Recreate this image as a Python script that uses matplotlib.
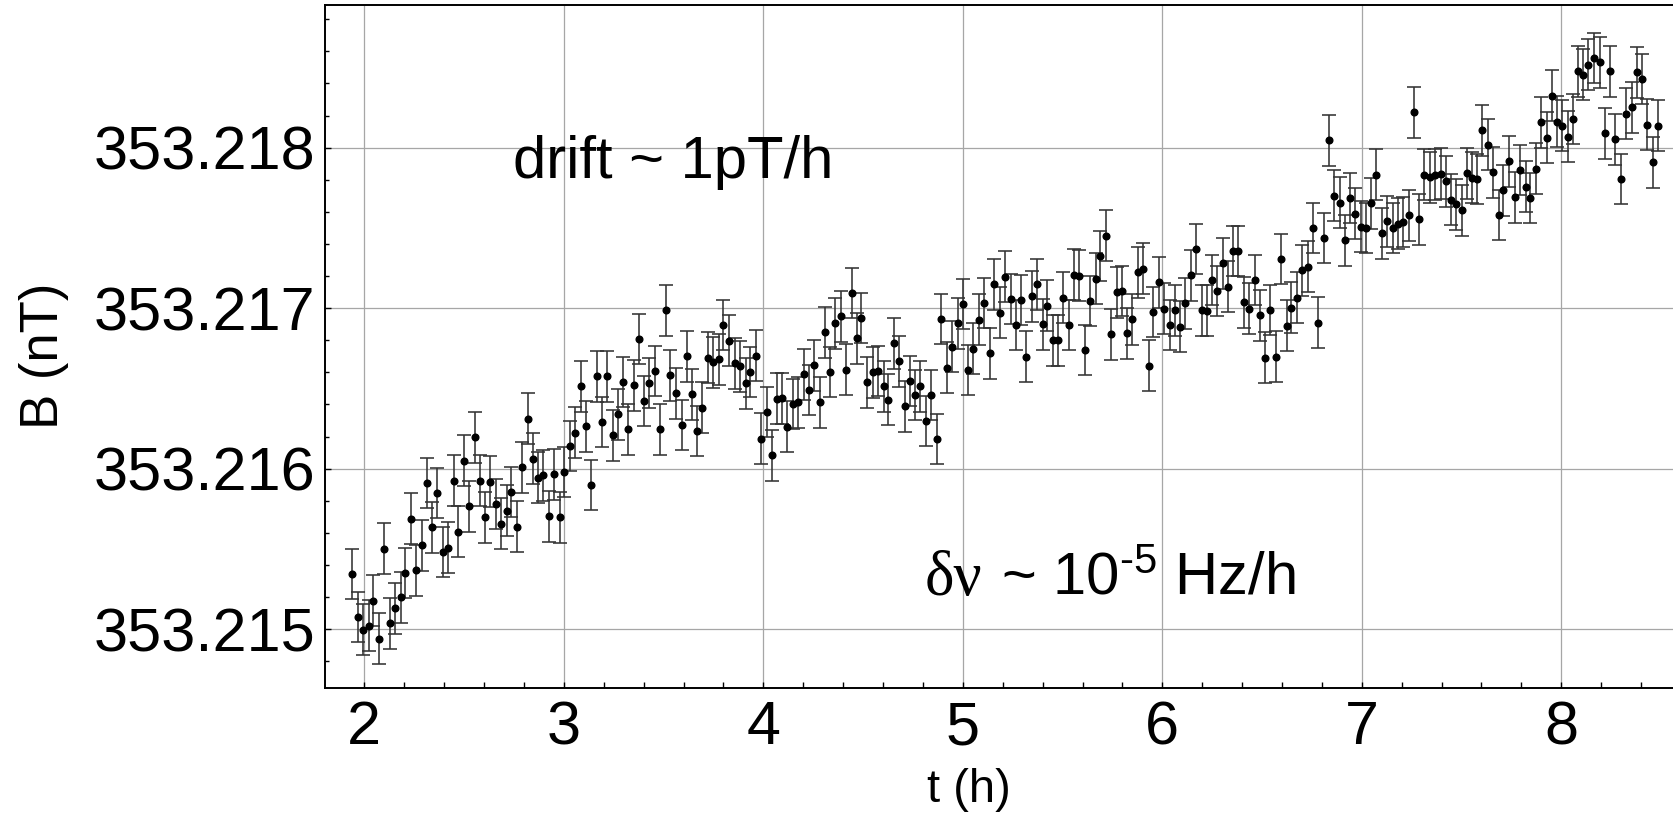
import numpy as np
import matplotlib
matplotlib.use("Agg")
import matplotlib.pyplot as plt
from matplotlib.ticker import MultipleLocator, FormatStrFormatter

plt.rcParams.update({
    "font.family": ["Liberation Sans", "DejaVu Sans"],
    "mathtext.fontset": "custom",
    "mathtext.rm": "Liberation Sans",
    "mathtext.default": "regular",
})

# field values are stored as offset from 353.215 nT, in pT
B_BASE = 353.215
t_h = [
    1.940, 1.967, 1.995, 2.024, 2.045, 2.072, 2.100, 2.127, 2.156, 2.182,
    2.204, 2.232, 2.259, 2.288, 2.314, 2.338, 2.366, 2.393, 2.421, 2.448,
    2.471, 2.498, 2.527, 2.553, 2.582, 2.605, 2.632, 2.660, 2.687, 2.715,
    2.735, 2.765, 2.792, 2.819, 2.847, 2.869, 2.897, 2.926, 2.953, 2.981,
    3.003,
    3.031, 3.058, 3.086, 3.111, 3.136, 3.165, 3.192, 3.218, 3.247, 3.270,
    3.295, 3.324, 3.352, 3.379, 3.402, 3.429, 3.457, 3.484, 3.512, 3.534,
    3.562, 3.591, 3.616, 3.644, 3.668, 3.694, 3.721, 3.750, 3.778, 3.800,
    3.830, 3.857, 3.883, 3.912, 3.935, 3.962, 3.989, 4.017, 4.044, 4.067,
    4.095, 4.120,
    4.150, 4.176, 4.204, 4.227, 4.254, 4.283, 4.309, 4.336, 4.359, 4.388,
    4.416, 4.443, 4.470, 4.491, 4.520, 4.548, 4.575, 4.605, 4.625, 4.653,
    4.680, 4.709, 4.735, 4.759, 4.787, 4.814, 4.841, 4.869, 4.891, 4.919,
    4.946, 4.974, 5.001, 5.024, 5.051, 5.080, 5.108, 5.135, 5.158, 5.185,
    5.213, 5.240,
    5.267, 5.290, 5.317, 5.345, 5.374, 5.400, 5.424, 5.452, 5.479, 5.504,
    5.532, 5.557, 5.584, 5.612, 5.639, 5.668, 5.689, 5.716, 5.745, 5.771,
    5.800, 5.821, 5.850, 5.877, 5.905, 5.932, 5.955, 5.982, 6.010, 6.037,
    6.064, 6.089, 6.115, 6.142, 6.171, 6.197, 6.222, 6.249, 6.276, 6.303,
    6.331,
    6.356, 6.381, 6.410, 6.436, 6.463, 6.491, 6.515, 6.542, 6.570, 6.597,
    6.625, 6.647, 6.675, 6.702, 6.730, 6.757, 6.780, 6.809, 6.834, 6.862,
    6.891, 6.914, 6.941, 6.968, 6.996, 7.023, 7.046, 7.073, 7.101, 7.128,
    7.156, 7.180, 7.206, 7.235, 7.262, 7.288, 7.313, 7.340, 7.367, 7.395,
    7.422, 7.445,
    7.472, 7.501, 7.527, 7.552, 7.577, 7.604, 7.634, 7.659, 7.688, 7.709,
    7.740, 7.766, 7.793, 7.821, 7.845, 7.872, 7.898, 7.927, 7.955, 7.977,
    8.005, 8.032, 8.060, 8.085, 8.109, 8.136, 8.166, 8.194, 8.219, 8.244,
    8.269, 8.298, 8.326, 8.353, 8.381, 8.403, 8.431, 8.458, 8.486,
]
b_pT = [
    0.344, 0.075, -0.004, 0.021, 0.177, -0.059, 0.502, 0.037, 0.129, 0.198,
    0.350, 0.689, 0.366, 0.523, 0.910, 0.635, 0.848, 0.481, 0.508, 0.925,
    0.606, 1.050, 0.764, 1.194, 0.925, 0.696, 0.919, 0.779, 0.656, 0.737,
    0.854, 0.639, 1.008, 1.310, 1.062, 0.944, 0.958, 0.702, 0.964, 0.696,
    0.979,
    1.141, 1.223, 1.512, 1.264, 0.898, 1.575, 1.291, 1.575, 1.208, 1.339,
    1.539, 1.244, 1.519, 1.808, 1.421, 1.533, 1.608, 1.244, 1.987, 1.581,
    1.469, 1.271, 1.700, 1.462, 1.235, 1.379, 1.691, 1.662, 1.681, 1.894,
    1.796, 1.656, 1.637, 1.531, 1.602, 1.704, 1.187, 1.352, 1.083, 1.435,
    1.439, 1.262,
    1.402, 1.412, 1.587, 1.489, 1.644, 1.414, 1.850, 1.602, 1.906, 1.948,
    1.616, 2.094, 1.812, 1.939, 1.537, 1.600, 1.608, 1.512, 1.429, 1.781,
    1.669, 1.387, 1.546, 1.458, 1.512, 1.296, 1.458, 1.185, 1.933, 1.629,
    1.760, 1.906, 2.025, 1.614, 1.748, 1.927, 2.031, 1.719, 2.148, 1.971,
    2.196, 2.056,
    1.894, 2.050, 1.698, 2.073, 2.148, 1.900, 2.016, 1.800, 1.800, 2.064,
    1.894, 2.208, 2.202, 1.739, 2.044, 2.183, 2.325, 2.452, 1.837, 2.098,
    2.106, 1.844, 1.931, 2.223, 2.246, 1.641, 1.975, 2.160, 1.996, 1.894,
    1.987, 1.885, 2.029, 2.204, 2.369, 1.987, 1.983, 2.175, 2.106, 2.279,
    2.133,
    2.356, 2.356, 2.037, 1.996, 2.175, 1.954, 1.691, 1.989, 1.698, 2.306,
    1.891, 2.002, 2.064, 2.235, 2.258, 2.500, 1.910, 2.437, 3.046, 2.700,
    2.658, 2.423, 2.687, 2.589, 2.508, 2.500, 2.652, 2.831, 2.466, 2.541,
    2.500, 2.527, 2.537, 2.579, 3.219, 2.554, 2.831, 2.816, 2.831, 2.837,
    2.789, 2.675,
    2.646, 2.610, 2.839, 2.812, 2.804, 3.108, 3.019, 2.846, 2.581, 2.735,
    2.914, 2.691, 2.860, 2.756, 2.687, 2.869, 3.158, 3.062, 3.323, 3.162,
    3.137, 3.069, 3.179, 3.475, 3.454, 3.516, 3.558, 3.531, 3.089, 3.475,
    3.052, 2.804, 3.212, 3.252, 3.469, 3.427, 3.144, 2.908, 3.137,
]
err_pT = 0.158

B_nT = B_BASE + np.array(b_pT) * 1e-3

fig = plt.figure(figsize=(16.73, 8.27), dpi=100)
ax = fig.add_axes([0.1943, 0.1681, 0.8057, 0.8259])

ax.errorbar(t_h, B_nT, yerr=err_pT * 1e-3, fmt="o", color="black", ms=4.8,
            ecolor="#333333", elinewidth=1.15, capsize=5, capthick=1.15, zorder=3)

ax.set_xlim(1.803, 8.560)
ax.set_ylim(353.214633, 353.218889)

ax.xaxis.set_major_locator(MultipleLocator(1))
ax.xaxis.set_minor_locator(MultipleLocator(0.2))
ax.yaxis.set_major_locator(MultipleLocator(0.001))
ax.yaxis.set_minor_locator(MultipleLocator(0.0002))
ax.yaxis.set_major_formatter(FormatStrFormatter("%.3f"))

ax.grid(True, which="major", color="#a6a6a6", lw=0.9)
ax.set_axisbelow(True)

for side in ["left", "bottom", "top"]:
    ax.spines[side].set_linewidth(1.4)
ax.spines["right"].set_visible(False)

ax.tick_params(axis="both", which="both", direction="in", top=False, right=False,
               width=1.0, labelsize=44)
ax.tick_params(axis="x", which="both", length=4.3, pad=9)
ax.tick_params(axis="y", which="major", length=4.3, pad=7)
ax.tick_params(axis="y", which="minor", length=2.9)

fig.text(44 / 1673, 1 - 356 / 827, "B (nT)", rotation=90, ha="center", va="center", fontsize=38)
fig.text(969 / 1673, 1 - 790 / 827, "t (h)", ha="center", va="center", fontsize=34)

ax.text(2.745, 353.2178125, "drift ~ 1pT/h", fontsize=43, ha="left", va="baseline", zorder=5)
ax.text(4.811, 353.215214, "δν", family="Liberation Serif", fontsize=45,
        ha="left", va="baseline", zorder=5)
ax.text(5.191, 353.215214, "~ 10$^{\u20105}$ Hz/h", fontsize=43, ha="left", va="baseline", zorder=5)

fig.savefig("out.png", dpi=100)
